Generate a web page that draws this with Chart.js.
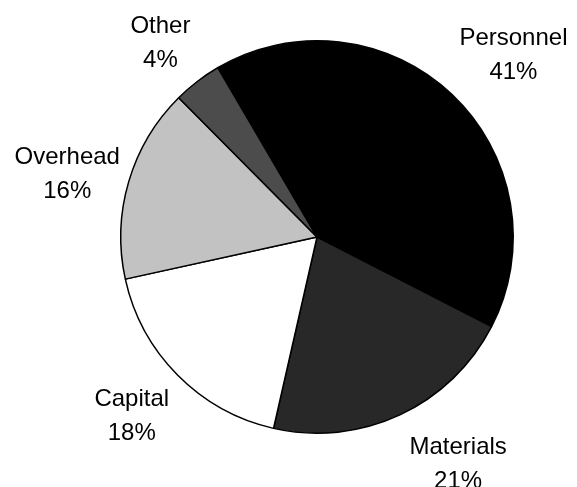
<!DOCTYPE html>
<html>
<head>
<meta charset="utf-8">
<script src="https://cdn.jsdelivr.net/npm/chart.js@4/dist/chart.umd.min.js"></script>
<style>
  html, body { margin: 0; padding: 0; background: #fff; }
  #wrap { width: 577px; height: 487px; }
</style>
</head>
<body>
<div id="wrap"><canvas id="pie"></canvas></div>
<script>
// data
const categories = ["Personnel", "Materials", "Capital", "Overhead", "Other"];
const shares = [41, 21, 18, 16, 4];
const sliceColors = ["#000000", "#282828", "#ffffff", "#c2c2c2", "#4c4c4c"];

// small nudges for the labels, in px, off the radial line
const labelNudge = {
  Personnel: [19, 6],
  Materials: [32, -7],
  Capital: [-2, -3],
  Overhead: [-2, 10],
  Other: [1, 11]
};

const outsideLabels = {
  id: "outsideLabels",
  afterDatasetsDraw(chart) {
    const ctx = chart.ctx;
    const meta = chart.getDatasetMeta(0);
    ctx.save();
    ctx.fillStyle = "#000";
    ctx.font = "24px 'Liberation Sans', Arial, sans-serif";
    ctx.textAlign = "center";
    ctx.textBaseline = "middle";
    meta.data.forEach(function (arc, i) {
      const p = arc.getProps(["x", "y", "startAngle", "endAngle", "outerRadius"], true);
      const mid = (p.startAngle + p.endAngle) / 2;
      const d = p.outerRadius + 62;
      const n = labelNudge[categories[i]] || [0, 0];
      const x = p.x + Math.cos(mid) * d + n[0];
      const y = p.y + Math.sin(mid) * d + n[1];
      ctx.fillText(categories[i], x, y - 17);
      ctx.fillText(shares[i] + "%", x, y + 17);
    });
    ctx.restore();
  }
};

document.addEventListener("DOMContentLoaded", function () {
  const ctx = document.getElementById("pie").getContext("2d");
  new Chart(ctx, {
    type: "pie",
    data: {
      labels: categories,
      datasets: [{
        data: shares,
        backgroundColor: sliceColors,
        borderColor: "#000",
        borderWidth: 1.5
      }]
    },
    options: {
      responsive: true,
      maintainAspectRatio: false,
      animation: false,
      rotation: -30.4,
      layout: { padding: { left: 120, right: 63, top: 40, bottom: 53 } },
      plugins: {
        legend: { display: false },
        tooltip: { enabled: false }
      }
    },
    plugins: [outsideLabels]
  });
});
</script>
</body>
</html>
